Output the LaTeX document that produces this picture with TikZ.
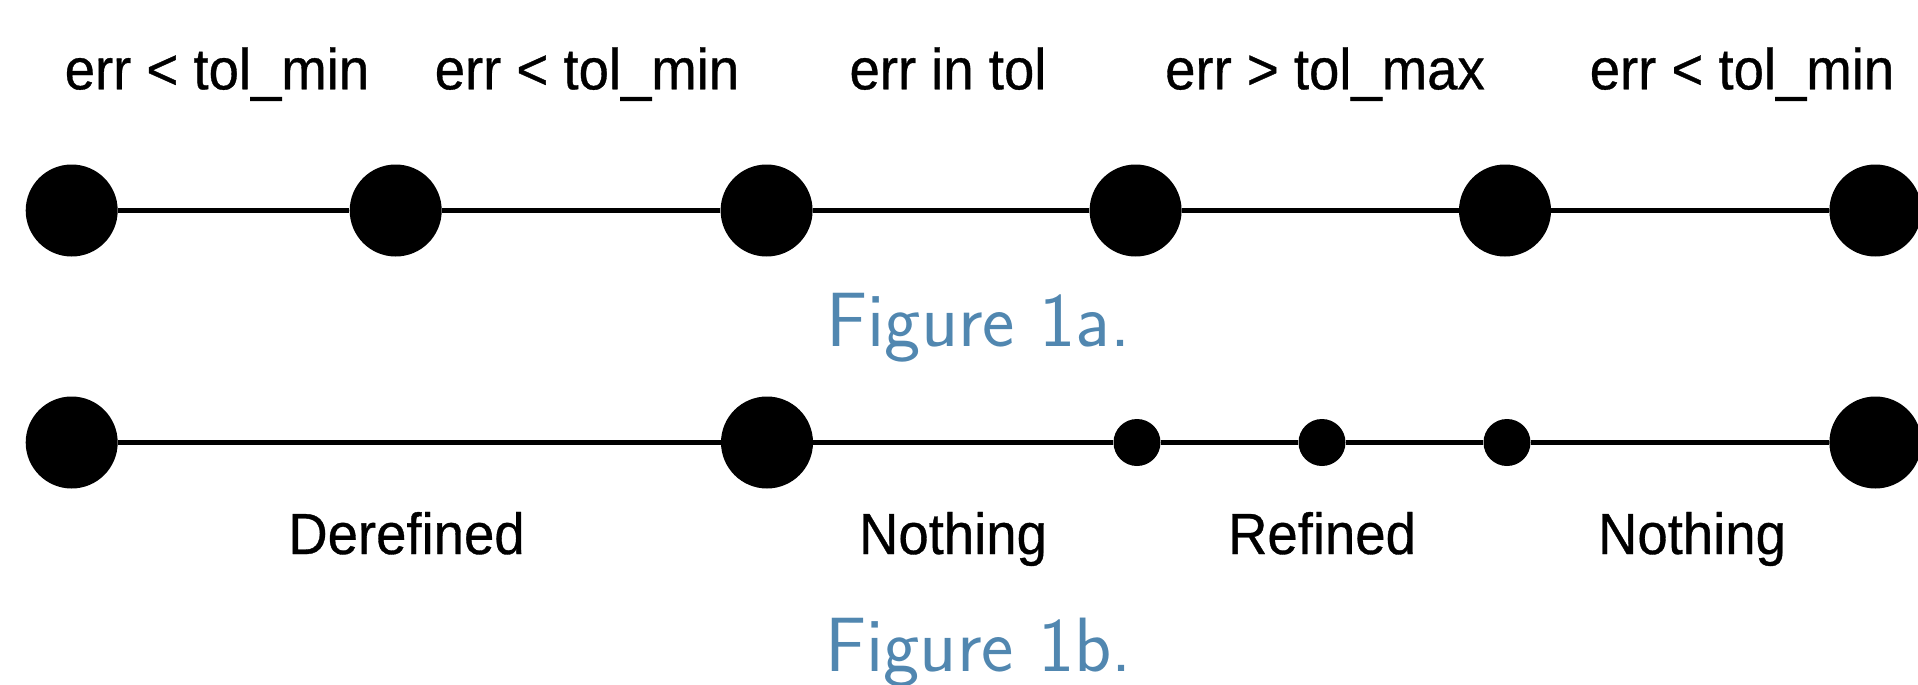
\documentclass[tikz,border=0pt]{standalone}
\usepackage{fontspec}
\usepackage{graphicx}
\newfontfamily\lblfont[FakeBold=0.6]{Liberation Sans}
\definecolor{capblue}{RGB}{81,135,176}
\newcommand{\lbltext}[1]{\scalebox{0.94}[1]{\lblfont\fontsize{29pt}{34pt}\selectfont #1}}
\tikzset{
  bigdot/.style={circle, fill=black, inner sep=0pt, minimum size=46pt},
  smalldot/.style={circle, fill=black, inner sep=0pt, minimum size=23.5pt},
  segment/.style={line width=2.35pt},
  lbl/.style={anchor=base, inner sep=0pt},
  caption/.style={anchor=base, inner sep=0pt, text=capblue,
    font=\sffamily\fontsize{38.5pt}{44pt}\selectfont},
}
\begin{document}
\begin{tikzpicture}[x=0.5pt, y=-0.5pt]
  \useasboundingbox (0,0) rectangle (1918,685);
  \clip (0,0) rectangle (1918,685);

  % Figure 1a: uniform mesh with error classes
  \node[bigdot] (a1) at (71.7,210.5) {};
  \node[bigdot] (a2) at (395.7,210.5) {};
  \node[bigdot] (a3) at (766.6,210.5) {};
  \node[bigdot] (a4) at (1135.6,210.5) {};
  \node[bigdot] (a5) at (1505,210.5) {};
  \node[bigdot] (a6) at (1875.4,210.5) {};
  \draw[segment] (a1) -- (a2) (a2) -- (a3) (a3) -- (a4) (a4) -- (a5) (a5) -- (a6);

  \node[lbl] (e1) at (217,89.3) {\lbltext{err < tol\_min}};
  \node[lbl] (e2) at (587,89.3) {\lbltext{err < tol\_min}};
  \node[lbl] (e3) at (948,89.3) {\lbltext{err in tol}};
  \node[lbl] (e4) at (1325,89.3) {\lbltext{err > tol\_max}};
  \node[lbl] (e5) at (1742,89.3) {\lbltext{err < tol\_min}};

  \node[caption] (capa) at (978.4,346.6) {Figure 1a.};

  % Figure 1b: mesh after adaptation
  \node[bigdot] (b1) at (71.7,442.5) {};
  \node[bigdot] (b2) at (767,442.5) {};
  \node[smalldot] (b3) at (1137,442.5) {};
  \node[smalldot] (b4) at (1322,442.5) {};
  \node[smalldot] (b5) at (1507,442.5) {};
  \node[bigdot] (b6) at (1875.4,442.5) {};
  \draw[segment] (b1) -- (b2) (b2) -- (b3) (b3) -- (b4) (b4) -- (b5) (b5) -- (b6);

  \node[lbl] (r1) at (406.5,554) {\lbltext{Derefined}};
  \node[lbl] (r2) at (953,554) {\lbltext{Nothing}};
  \node[lbl] (r3) at (1322,554) {\lbltext{Refined}};
  \node[lbl] (r4) at (1692,554) {\lbltext{Nothing}};

  \node[caption] (capb) at (978.4,671.7) {Figure 1b.};
\end{tikzpicture}
\end{document}
